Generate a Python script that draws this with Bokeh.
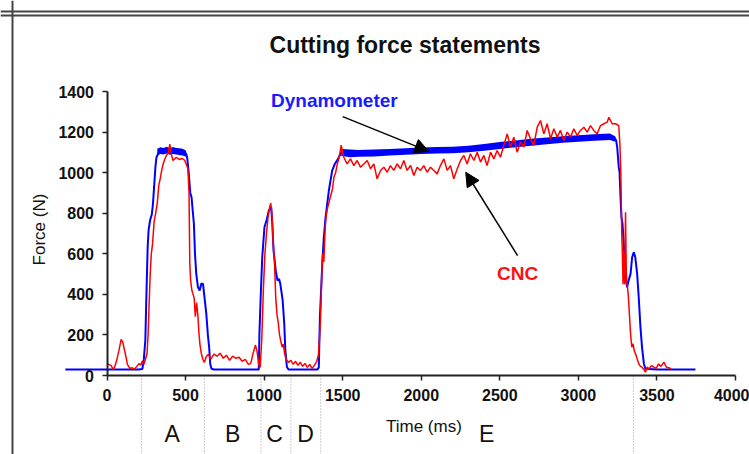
from bokeh.plotting import figure
from bokeh.models import (Range1d, FixedTicker, Span, Arrow, NormalHead, Label,
                          ColumnDataSource)
from bokeh.core.properties import value
from bokeh.embed import file_html
from bokeh.resources import INLINE
import math

# ---------------- data ----------------
red_time = [0, 10, 25, 40, 50, 60, 75, 90, 100, 110, 120, 130, 145, 160, 175, 190, 205, 215,
            225, 235, 245, 255, 262, 268, 275, 282, 290, 300, 310, 320, 330, 340, 350, 360,
            375, 390, 400, 410, 420, 440, 460, 480, 495, 505, 515, 522, 527, 532, 540, 548,
            555, 562, 570, 578, 585, 592, 600, 610, 620, 630, 645, 660, 680, 700, 720, 740,
            760, 780, 800, 820, 840, 860, 880, 900, 915, 930, 945, 955, 965, 975, 985, 995,
            1005, 1015, 1025, 1035, 1042, 1050, 1058, 1066, 1074, 1082, 1090, 1098, 1106,
            1114, 1122, 1130, 1140, 1155, 1170, 1185, 1200, 1215, 1230, 1245, 1260, 1275,
            1290, 1305, 1320, 1335, 1345, 1352, 1358, 1365, 1372, 1380, 1388, 1395, 1405,
            1415, 1425, 1435, 1445, 1455, 1465, 1475, 1483, 1490,
            1507, 1528, 1550, 1571, 1592, 1613, 1635, 1656, 1677, 1698, 1719, 1741, 1762,
            1783, 1804, 1825, 1847, 1868, 1889, 1910, 1932, 1953, 1974, 1995, 2016, 2038,
            2059, 2080, 2101, 2122, 2144, 2165, 2186, 2207, 2229, 2250, 2271, 2292, 2313,
            2335, 2356, 2377, 2398, 2419, 2441, 2462, 2483, 2504, 2525, 2547, 2568, 2589,
            2610, 2632, 2653, 2674, 2695, 2716, 2738, 2759, 2780, 2801, 2823, 2844, 2865,
            2886, 2907, 2929, 2950, 2971, 2992, 3013, 3035, 3056, 3077, 3098, 3119, 3141,
            3162, 3183, 3194, 3215, 3236, 3257, 3264, 3270, 3276, 3280, 3284, 3290, 3295,
            3300, 3305, 3310, 3317, 3321, 3332, 3340, 3348, 3356, 3364, 3374, 3385, 3395,
            3405, 3417, 3427, 3437, 3450, 3465, 3480, 3495, 3510, 3525, 3544, 3560, 3575,
            3590]
red_force = [60, 55, 50, 30, 45, 70, 120, 178, 165, 130, 95, 55, 35, 38, 32, 45, 60, 50,
             72, 55, 80, 110, 210, 350, 500, 600, 650, 760, 800, 850, 940, 975, 1020, 1050,
             1080, 1100, 1140, 1090, 1060, 1075, 1065, 1070, 1060, 1040, 1020, 900, 550, 470,
             420, 400, 380, 290, 360, 300, 210, 150, 110, 80, 65, 90, 105, 80, 105, 95, 110,
             85, 100, 75, 95, 85, 90, 70, 80, 55, 60, 110, 150, 120, 55, 40, 180, 420, 600,
             700, 780, 830, 850, 790, 650, 560, 380, 300, 260, 200, 170, 140, 155, 110, 80,
             65, 75, 55, 70, 50, 65, 45, 60, 40, 55, 35, 50, 70, 100, 180, 260, 450, 600,
             560, 720, 790, 830, 860, 890, 920, 980, 1000, 1040, 1070, 1100, 1135,
             1076, 1043, 1068, 1035, 1060, 1027, 1043, 1060, 1019, 1043, 970, 1011, 1027,
             1002, 1035, 1011, 1043, 1019, 1060, 1011, 1035, 986, 1027, 1011, 1035, 1002,
             1027, 1011, 994, 1035, 1068, 1011, 1035, 970, 1019, 1060, 1085, 1043, 1093,
             1060, 1101, 1052, 1085, 1035, 1101, 1068, 1109, 1076, 1134, 1191, 1126, 1175,
             1101, 1150, 1126, 1208, 1167, 1134, 1224, 1257, 1191, 1241, 1167, 1216, 1175,
             1208, 1159, 1200, 1175, 1216, 1183, 1208, 1224, 1200, 1232, 1208, 1191, 1232,
             1241, 1249, 1273, 1241, 1241, 1232, 1142, 1000, 700, 600, 450, 600, 450,
             805, 500, 452, 402, 353, 205, 140, 156, 120, 107, 82, 57, 45,
             41, 30, 16, 41, 33, 49, 41, 35, 57, 45, 66, 41, 38,
             33]

blue_time = [-265, 0, 100, 200, 225, 234, 244, 250, 259, 265, 275, 285, 292, 300, 308, 315,
             330, 350, 370, 390, 410, 430, 450, 470, 490, 505, 510, 520, 530, 538, 553, 560,
             568, 579, 590, 600, 611, 618, 632, 642, 650, 657, 665, 680, 800, 966, 970, 978,
             988, 1002, 1015, 1030, 1045, 1052, 1060, 1074, 1085, 1095, 1103, 1118, 1128,
             1135, 1145, 1155, 1340, 1348, 1355, 1370, 1380, 1391, 1412, 1433, 1450, 1476,
             1491, 1500, 1600, 1700, 1800, 1900, 2000, 2100, 2200, 2300, 2400, 2500, 2600,
             2700, 2800, 2900, 3000, 3100, 3200, 3226, 3240, 3247, 3257, 3262, 3268, 3274,
             3281, 3290, 3300, 3310, 3320, 3332, 3342, 3353, 3362, 3374, 3384, 3395, 3405,
             3417, 3427, 3500, 3745]
blue_force = [30, 30, 30, 30, 32, 77, 175, 372, 637, 719, 768, 793, 842, 932, 1027, 1076,
              1101, 1110, 1105, 1110, 1105, 1110, 1100, 1105, 1100, 1090, 1076, 1000, 900,
              879, 748, 600, 501, 435, 419, 452, 452, 402, 304, 200, 140, 57, 33, 30, 30, 30,
              205, 386, 583, 731, 764, 813, 830, 748, 616, 517, 468, 476, 452, 370, 255, 124,
              42, 30, 30, 40, 288, 550, 682, 780, 912, 1010, 1043, 1076, 1101, 1096, 1094,
              1097, 1100, 1104, 1109, 1110, 1112, 1117, 1125, 1134, 1142, 1150, 1156, 1163,
              1168, 1173, 1177, 1177, 1160, 1126, 1027, 1002, 879, 780, 747, 632, 485, 435,
              470, 501, 583, 608, 583, 501, 386, 238, 140, 57, 33, 30, 30]

# noisy thick band of the dynamometer signal (lower / upper envelope)
dyn_peak_time = [320, 340, 360, 380, 400, 420, 440, 460, 480, 500, 508]
dyn_peak_low = [1085, 1092, 1090, 1095, 1088, 1092, 1090, 1087, 1085, 1080, 1070]
dyn_peak_high = [1118, 1125, 1122, 1128, 1120, 1126, 1122, 1120, 1118, 1110, 1095]
dyn_plateau_time = [1491, 1550, 1600, 1700, 1800, 1900, 2000, 2100, 2200, 2300, 2400, 2500,
                    2600, 2700, 2800, 2900, 3000, 3100, 3200, 3235]
dyn_plateau_low = [1082, 1076, 1078, 1080, 1084, 1088, 1092, 1094, 1096, 1101, 1108, 1117,
                   1125, 1133, 1140, 1147, 1152, 1157, 1161, 1152]
dyn_plateau_high = [1116, 1114, 1112, 1114, 1117, 1120, 1124, 1126, 1128, 1133, 1141, 1151,
                    1159, 1167, 1173, 1179, 1184, 1189, 1193, 1178]

x_ticks = [0, 500, 1000, 1500, 2000, 2500, 3000, 3500, 4000]
y_ticks = [0, 200, 400, 600, 800, 1000, 1200, 1400]

phase_bounds = [220, 620, 980, 1170, 1360, 3350]
phase_names = ["A", "B", "C", "D", "E"]
phase_label_x = [415, 800, 1067, 1264, 2417]

# ---------------- figure ----------------
W, H = 749, 454
X0, X1 = -677.8, 4089.0
Y0, Y1 = -389.4, 1848.6
FONT = "Liberation Sans"

p = figure(width=W, height=H, x_range=Range1d(X0, X1), y_range=Range1d(Y0, Y1),
           output_backend="svg", toolbar_location=None, title=None,
           min_border_left=0, min_border_right=0, min_border_top=0, min_border_bottom=0)
p.outline_line_color = None
p.background_fill_color = "white"
p.border_fill_color = "white"
p.grid.visible = False

for ax, ticks in ((p.xaxis[0], x_ticks), (p.yaxis[0], y_ticks)):
    ax.fixed_location = 0
    ax.ticker = FixedTicker(ticks=ticks)
    ax.minor_tick_line_color = None
    ax.major_tick_in = 0
    ax.major_tick_out = 5
    ax.major_tick_line_width = 1.5
    ax.major_tick_line_color = "#222222"
    ax.axis_line_color = "#222222"
    ax.axis_line_width = 2
    ax.major_label_text_font = FONT
    ax.major_label_text_font_size = "16px"
    ax.major_label_text_font_style = "bold"
    ax.major_label_text_color = "#111111"
    ax.major_label_standoff = 8
p.xaxis.bounds = (0, 4000)
p.yaxis.bounds = (0, 1400)

# outer frame decoration (left line + double top line)
def px_to_x(px):
    return X0 + px * (X1 - X0) / W

def py_to_y(py):
    return Y1 - py * (Y1 - Y0) / H

p.add_layout(Span(location=px_to_x(12), dimension="height", line_color="#444444", line_width=2))
p.add_layout(Span(location=py_to_y(11), dimension="width", line_color="#444444", line_width=2))
p.add_layout(Span(location=py_to_y(15), dimension="width", line_color="#444444", line_width=2))

# phase separators below the axis
p.segment(x0=phase_bounds, y0=[0] * len(phase_bounds), x1=phase_bounds,
          y1=[Y0] * len(phase_bounds), line_color="#999999", line_width=1, line_dash="1 2")

# series
p.varea(x=dyn_peak_time, y1=dyn_peak_low, y2=dyn_peak_high, fill_color="#0000ff")
p.varea(x=dyn_plateau_time, y1=dyn_plateau_low, y2=dyn_plateau_high, fill_color="#0000ff")
p.line(blue_time, blue_force, line_color="#0000ff", line_width=2)
p.line(red_time, red_force, line_color="#ff0000", line_width=1.5)

# annotations
p.add_layout(Arrow(end=NormalHead(size=14, fill_color="black", line_color="black"),
                   x_start=1500, y_start=1276, x_end=2048, y_end=1105,
                   line_color="black", line_width=1.5))
p.add_layout(Arrow(end=NormalHead(size=14, fill_color="black", line_color="black"),
                   x_start=2613, y_start=591, x_end=2283, y_end=1002,
                   line_color="black", line_width=1.5))

p.text(x=[1447], y=[1355], text=["Dynamometer"], text_font=value(FONT),
       text_font_size="19px", text_font_style="bold", text_color="#1a1aff",
       text_align="center", text_baseline="middle")
p.text(x=[2613], y=[503], text=["CNC"], text_font=value(FONT),
       text_font_size="19px", text_font_style="bold", text_color="#ff1010",
       text_align="center", text_baseline="middle")

src = ColumnDataSource(dict(x=phase_label_x, y=[-286] * len(phase_names), t=phase_names))
p.text(x="x", y="y", text="t", source=src, text_font=value(FONT), text_font_size="23px",
       text_color="#111111", text_align="center", text_baseline="middle")
p.text(x=[2017], y=[-251], text=["Time (ms)"], text_font=value(FONT), text_font_size="17px",
       text_color="#111111", text_align="center", text_baseline="middle")

p.add_layout(Label(x=404.5, y=H - 44, x_units="screen", y_units="screen",
                   text="Cutting force statements", text_font=FONT, text_font_size="23px",
                   text_font_style="bold", text_color="#111111", text_align="center",
                   text_baseline="middle"))
p.add_layout(Label(x=39, y=H - 229, x_units="screen", y_units="screen", angle=math.pi / 2,
                   text="Force (N)", text_font=FONT, text_font_size="17px",
                   text_color="#111111", text_align="center", text_baseline="middle"))

open("out.html", "w").write(file_html(p, INLINE))
